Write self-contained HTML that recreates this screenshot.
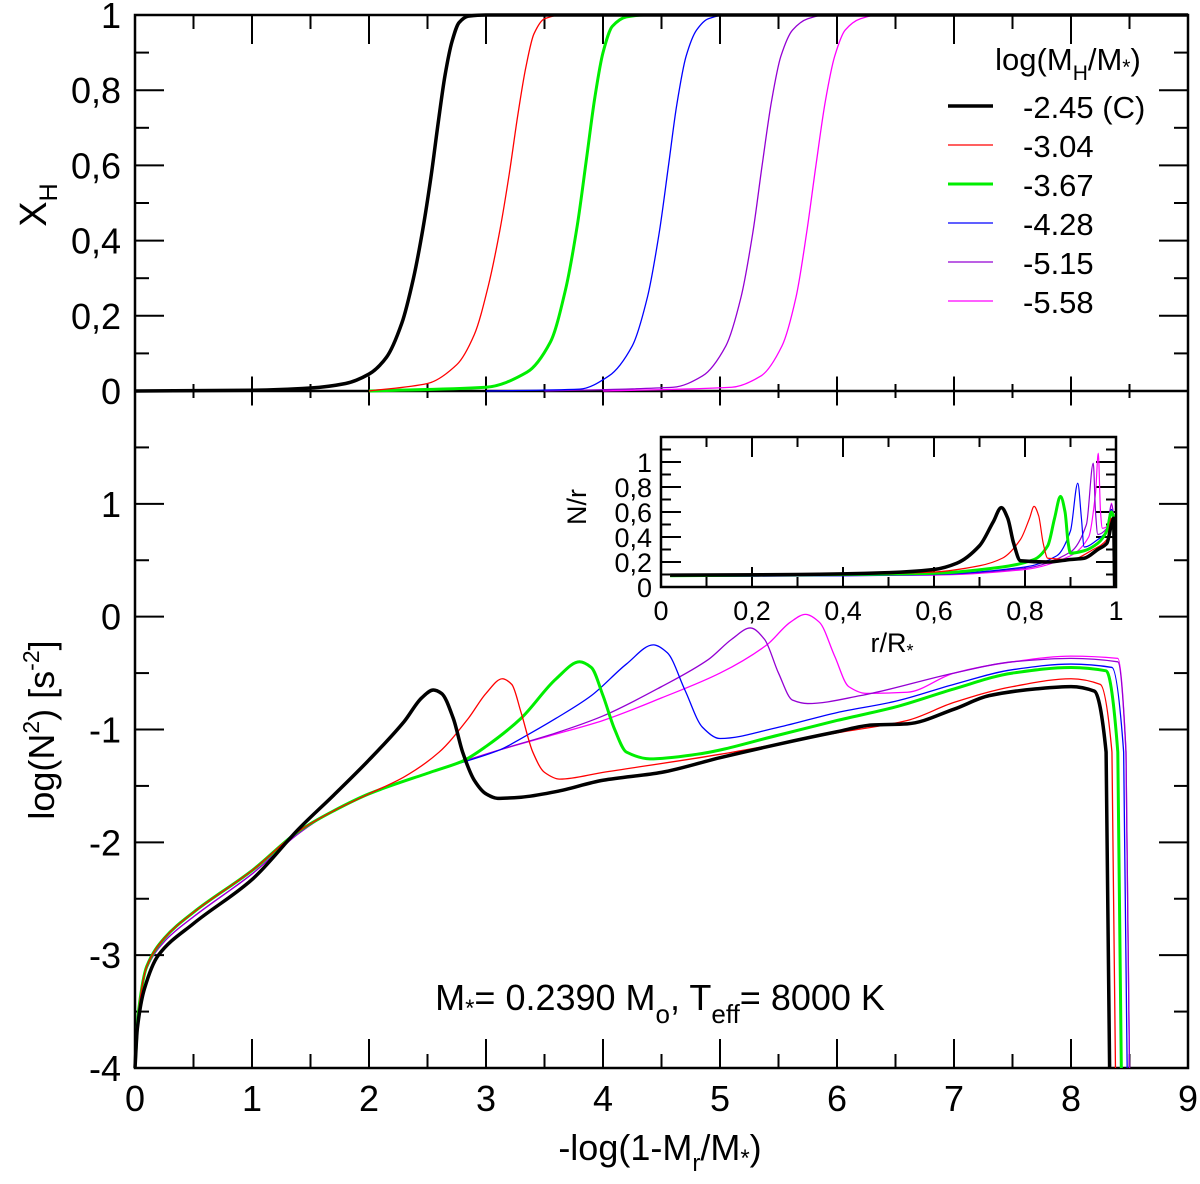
<!DOCTYPE html>
<html><head><meta charset="utf-8"><style>
html,body{margin:0;padding:0;background:#fff;}
svg{display:block;font-family:"Liberation Sans",Arial,sans-serif;}
</style></head><body>
<svg id="chart" width="1200" height="1184" viewBox="0 0 1200 1184" xmlns="http://www.w3.org/2000/svg">
<g id="axes"></g>
<g id="series"></g>
<g id="inset"></g>
<text transform="translate(46,205) rotate(-90)" text-anchor="middle" font-size="38">X<tspan font-size="25" dy="11">H</tspan></text>
<text transform="translate(54,730) rotate(-90)" text-anchor="middle" font-size="36">log(N<tspan font-size="23" dy="-15">2</tspan><tspan dy="15">)  [s</tspan><tspan font-size="23" dy="-15">-2</tspan><tspan dy="15">]</tspan></text>
<text x="660" y="1160" text-anchor="middle" font-size="36">-log(1-M<tspan font-size="24" dy="11">r</tspan><tspan dy="-11">/M</tspan><tspan font-size="24" dy="6">*</tspan><tspan dy="-6">)</tspan></text>
<text x="660" y="1010" text-anchor="middle" font-size="36">M<tspan font-size="24" dy="6">*</tspan><tspan dy="-6">= 0.2390 M</tspan><tspan font-size="26" dy="13">o</tspan><tspan dy="-13">, T</tspan><tspan font-size="26" dy="13">eff</tspan><tspan dy="-13">= 8000 K</tspan></text>
<g id="legend">
<text x="1068" y="70" text-anchor="middle" font-size="31">log(M<tspan font-size="21" dy="10">H</tspan><tspan dy="-10">/M</tspan><tspan font-size="21" dy="4">*</tspan><tspan dy="-4">)</tspan></text>
</g>
</svg>
<script>
// ---- data ----
const seriesNames = ["-2.45 (C)","-3.04","-3.67","-4.28","-5.15","-5.58"];
const seriesColors = ["#000000","#ff0000","#00ee00","#0000ff","#9400d3","#ff00ff"];
const seriesWidths = [3.5,1.3,3,1.3,1.3,1.3];
const xhBlack = [[0,0],[1.0,0.002],[1.5,0.008],[1.8,0.02],[2.0,0.045],[2.15,0.09],[2.28,0.18],[2.38,0.3],[2.46,0.43],[2.53,0.57],[2.59,0.71],[2.65,0.84],[2.71,0.93],[2.77,0.98],[2.85,0.997],[3.0,1],[9,1]];
const xhRed = [[2.0,0],[2.5,0.02],[2.75,0.07],[2.9,0.15],[3.02,0.28],[3.12,0.43],[3.2,0.58],[3.27,0.73],[3.34,0.86],[3.41,0.95],[3.5,0.99],[3.65,1],[9,1]];
const xhGreen = [[2.0,0],[3.0,0.01],[3.35,0.05],[3.55,0.13],[3.68,0.27],[3.78,0.44],[3.86,0.62],[3.93,0.78],[4.0,0.9],[4.08,0.97],[4.2,0.995],[4.35,1],[9,1]];
const xhBlue = [[3.0,0],[3.8,0.005],[4.05,0.04],[4.25,0.12],[4.38,0.25],[4.48,0.42],[4.56,0.6],[4.63,0.76],[4.71,0.89],[4.8,0.96],[4.9,0.99],[5.05,1],[9,1]];
const xhPurple = [[3.5,0],[4.6,0.01],[4.85,0.04],[5.05,0.12],[5.18,0.25],[5.28,0.42],[5.36,0.6],[5.44,0.77],[5.52,0.89],[5.62,0.96],[5.75,0.99],[5.9,1],[9,1]];
const xhMagenta = [[4.0,0],[5.1,0.01],[5.35,0.04],[5.53,0.12],[5.65,0.25],[5.74,0.42],[5.82,0.6],[5.9,0.77],[5.98,0.89],[6.07,0.96],[6.2,0.99],[6.35,1],[9,1]];
const n2Black = [[0,-4],[0.02,-3.65],[0.08,-3.3],[0.2,-3.0],[0.5,-2.72],[1.0,-2.33],[1.4,-1.88],[1.7,-1.58],[2.0,-1.27],[2.3,-0.93],[2.45,-0.72],[2.55,-0.65],[2.62,-0.68],[2.72,-0.9],[2.8,-1.2],[2.9,-1.45],[3.0,-1.57],[3.1,-1.61],[3.3,-1.6],[3.6,-1.55],[4.0,-1.45],[4.5,-1.38],[5.0,-1.25],[5.5,-1.13],[6.0,-1.02],[6.3,-0.96],[6.6,-0.95],[7.0,-0.82],[7.3,-0.7],[7.7,-0.64],[8.0,-0.62],[8.2,-0.66],[8.3,-1.2],[8.33,-4]];
const n2Red = [[0,-4],[0.03,-3.5],[0.1,-3.1],[0.25,-2.85],[0.5,-2.62],[1.0,-2.25],[1.4,-1.9],[1.7,-1.72],[2.0,-1.57],[2.3,-1.42],[2.6,-1.2],[2.85,-0.9],[3.0,-0.68],[3.14,-0.55],[3.22,-0.6],[3.3,-0.85],[3.4,-1.2],[3.5,-1.38],[3.63,-1.44],[4.0,-1.38],[5.0,-1.22],[6.0,-1.03],[6.6,-0.92],[7.0,-0.76],[7.5,-0.62],[8.0,-0.55],[8.25,-0.6],[8.35,-1.2],[8.38,-4]];
const n2Green = [[0,-4],[0.03,-3.5],[0.1,-3.1],[0.25,-2.85],[0.5,-2.62],[1.0,-2.25],[1.4,-1.9],[1.7,-1.72],[2.0,-1.57],[2.55,-1.37],[2.8,-1.28],[3.0,-1.15],[3.3,-0.9],[3.6,-0.55],[3.8,-0.4],[3.9,-0.45],[4.0,-0.7],[4.1,-1.0],[4.2,-1.2],[4.4,-1.26],[4.8,-1.22],[5.5,-1.05],[6.0,-0.92],[6.5,-0.8],[7.0,-0.64],[7.5,-0.5],[8.0,-0.45],[8.3,-0.48],[8.4,-1.2],[8.43,-4]];
const n2Blue = [[0,-4],[0.03,-3.5],[0.1,-3.1],[0.25,-2.85],[0.5,-2.62],[1.0,-2.25],[1.4,-1.9],[1.7,-1.72],[2.0,-1.57],[2.55,-1.37],[3.12,-1.18],[3.3,-1.08],[3.6,-0.9],[3.9,-0.7],[4.2,-0.42],[4.43,-0.25],[4.55,-0.32],[4.7,-0.65],[4.85,-0.98],[5.0,-1.08],[5.5,-0.98],[6.0,-0.85],[6.5,-0.75],[7.0,-0.6],[7.5,-0.47],[8.0,-0.42],[8.35,-0.45],[8.45,-1.2],[8.48,-4]];
const n2Purple = [[0,-4],[0.03,-3.5],[0.1,-3.12],[0.25,-2.88],[0.5,-2.66],[1.0,-2.28],[1.4,-1.92],[1.7,-1.72],[2.0,-1.57],[2.55,-1.37],[3.12,-1.18],[3.6,-1.03],[4.0,-0.88],[4.5,-0.62],[4.9,-0.38],[5.1,-0.2],[5.26,-0.1],[5.38,-0.2],[5.5,-0.5],[5.62,-0.74],[5.75,-0.77],[6.2,-0.7],[7.0,-0.5],[7.5,-0.4],[8.0,-0.37],[8.4,-0.4],[8.47,-1.2],[8.5,-4]];
const n2Magenta = [[0,-4],[0.03,-3.5],[0.1,-3.12],[0.25,-2.88],[0.5,-2.66],[1.0,-2.28],[1.4,-1.92],[1.7,-1.72],[2.0,-1.57],[2.55,-1.37],[3.12,-1.18],[3.6,-1.04],[4.0,-0.92],[4.5,-0.72],[5.0,-0.5],[5.4,-0.25],[5.6,-0.05],[5.73,0.02],[5.85,-0.05],[5.98,-0.35],[6.1,-0.62],[6.25,-0.68],[6.6,-0.67],[7.0,-0.5],[7.5,-0.4],[8.0,-0.35],[8.4,-0.37],[8.47,-1.2],[8.5,-4]];
const inBlack = [[0.02,0.095],[0.3,0.1],[0.5,0.115],[0.6,0.14],[0.65,0.19],[0.7,0.33],[0.73,0.52],[0.748,0.635],[0.762,0.55],[0.775,0.35],[0.79,0.21],[0.85,0.2],[0.9,0.22],[0.93,0.23],[0.96,0.3],[0.98,0.35],[0.99,0.5],[0.995,0.55],[0.997,0]];
const inRed = [[0.02,0.09],[0.4,0.1],[0.6,0.12],[0.7,0.17],[0.75,0.23],[0.79,0.38],[0.81,0.55],[0.82,0.645],[0.83,0.57],[0.84,0.35],[0.85,0.23],[0.9,0.22],[0.95,0.3],[0.98,0.38],[0.99,0.55],[0.995,0.55],[0.997,0]];
const inGreen = [[0.02,0.09],[0.4,0.1],[0.6,0.11],[0.75,0.16],[0.82,0.22],[0.85,0.33],[0.865,0.55],[0.878,0.725],[0.888,0.6],[0.895,0.35],[0.9,0.27],[0.93,0.29],[0.96,0.35],[0.98,0.45],[0.99,0.6],[0.995,0.55],[0.997,0]];
const inBlue = [[0.02,0.085],[0.4,0.09],[0.6,0.1],[0.8,0.16],[0.87,0.25],[0.9,0.45],[0.916,0.83],[0.924,0.55],[0.93,0.32],[0.96,0.38],[0.98,0.45],[0.99,0.62],[0.995,0.55],[0.997,0]];
const inPurple = [[0.02,0.085],[0.6,0.1],[0.8,0.15],[0.9,0.28],[0.935,0.5],[0.95,0.99],[0.955,0.6],[0.96,0.42],[0.98,0.47],[0.99,0.66],[0.995,0.55],[0.997,0]];
const inMagenta = [[0.02,0.085],[0.6,0.095],[0.8,0.14],[0.9,0.25],[0.94,0.4],[0.955,0.75],[0.961,1.07],[0.966,0.6],[0.97,0.47],[0.985,0.5],[0.99,0.67],[0.995,0.55],[0.997,0]];
const xTickLabels = ["0","1","2","3","4","5","6","7","8","9"];
const topYTickLabels = ["0","0,2","0,4","0,6","0,8","1"];
const botYTickLabels = ["-4","-3","-2","-1","0","1"];
const inXTickLabels = ["0","0,2","0,4","0,6","0,8","1"];
const inYTickLabels = ["0","0,2","0,4","0,6","0,8","1"];

// ---- scales ----
const L=135,R=1188,T=15,M=391,B=1068;
const sx=v=>L+(R-L)*v/9;
const syTop=v=>M-(M-T)*v;
const syBot=v=>B-(B-M)*(v+4)/6;
const IL=661,IR=1116,IB=587,IT=437;
const isx=v=>IL+(IR-IL)*v;
const isy=v=>IB-(IB-IT)*v/1.2;

const NS="http://www.w3.org/2000/svg";
function mk(tag,parent,attrs){const e=document.createElementNS(NS,tag);for(const k in attrs)e.setAttribute(k,attrs[k]);parent.appendChild(e);return e;}
const axes=document.getElementById('axes'),series=document.getElementById('series'),inset=document.getElementById('inset'),legend=document.getElementById('legend');

function pathFrom(pts,fx,fy){
  const n=pts.length;const xs=pts.map(p=>fx(p[0])),ys=pts.map(p=>fy(p[1]));
  if(n<3){return 'M'+xs.map((x,i)=>x.toFixed(2)+','+ys[i].toFixed(2)).join('L');}
  const d=[],m=new Array(n);
  for(let i=0;i<n-1;i++){const dx=xs[i+1]-xs[i];d.push(dx===0?0:(ys[i+1]-ys[i])/dx);}
  m[0]=d[0];m[n-1]=d[n-2];
  for(let i=1;i<n-1;i++){m[i]=(d[i-1]*d[i]<=0)?0:2/(1/d[i-1]+1/d[i]);}
  let s='M'+xs[0].toFixed(2)+','+ys[0].toFixed(2);
  for(let i=0;i<n-1;i++){const h=(xs[i+1]-xs[i])/3;
    if(Math.abs(d[i])>40){s+='L'+xs[i+1].toFixed(2)+','+ys[i+1].toFixed(2);continue;}
    const m0=Math.abs(m[i])>40?d[i]:m[i],m1=Math.abs(m[i+1])>40?d[i]:m[i+1];
    s+='C'+(xs[i]+h).toFixed(2)+','+(ys[i]+m0*h).toFixed(2)+' '+(xs[i+1]-h).toFixed(2)+','+(ys[i+1]-m1*h).toFixed(2)+' '+xs[i+1].toFixed(2)+','+ys[i+1].toFixed(2);}
  return s;
}

const frame=mk('rect',axes,{x:L,y:T,width:R-L,height:B-T,fill:'none',stroke:'#000','stroke-width':2.5});


const mid=mk('line',axes,{x1:L,y1:M,x2:R,y2:M,stroke:'#000','stroke-width':2.5});


function tick(parent,x1,y1,x2,y2,w){const t=mk('line',parent,{x1,y1,x2,y2,stroke:'#000','stroke-width':w||2});
  
  }
function label(parent,x,y,txt,size,anchor,name){const t=mk('text',parent,{x,y,'font-size':size,'text-anchor':anchor});t.textContent=txt;
  
  }
for(let i=0;i<=18;i++){const v=i/2,x=sx(v),maj=i%2===0,len=maj?29:14;
  tick(axes,x,B,x,B-len);tick(axes,x,T,x,T+len);tick(axes,x,M-len/2,x,M+len/2);}
xTickLabels.forEach((s,i)=>label(axes,sx(i),1111,s,36,'middle','x-tick-label'));
for(let i=0;i<=10;i++){const v=i/10,y=syTop(v),maj=i%2===0,len=maj?29:14;
  if(i>0&&i<10){tick(axes,L,y,L+len,y);tick(axes,R,y,R-len,y);}}
topYTickLabels.forEach((s,i)=>label(axes,121,syTop(i*0.2)+13,s,36,'end','top-y-tick-label'));
for(let i=1;i<12;i++){const v=-4+i/2,y=syBot(v),maj=i%2===0,len=maj?29:14;
  tick(axes,L,y,L+len,y);tick(axes,R,y,R-len,y);}
botYTickLabels.forEach((s,i)=>label(axes,121,syBot(i-4)+13,s,36,'end','bottom-y-tick-label'));

const xhData=[xhBlack,xhRed,xhGreen,xhBlue,xhPurple,xhMagenta];
const n2Data=[n2Black,n2Red,n2Green,n2Blue,n2Purple,n2Magenta];
const inData=[inBlack,inRed,inGreen,inBlue,inPurple,inMagenta];
const order=[5,4,3,2,1,0];
order.forEach(k=>{
  const p=mk('path',series,{d:pathFrom(xhData[k],sx,syTop),fill:'none',stroke:seriesColors[k],'stroke-width':seriesWidths[k],'stroke-linejoin':'round'});
  
  
  const q=mk('path',series,{d:pathFrom(n2Data[k],sx,syBot),fill:'none',stroke:seriesColors[k],'stroke-width':seriesWidths[k],'stroke-linejoin':'round'});
  
  
});

const bg=mk('rect',inset,{x:IL,y:IT,width:IR-IL,height:IB-IT,fill:'#fff',stroke:'#000','stroke-width':2.5});


for(let i=0;i<=10;i++){const x=isx(i/10),len=i%2===0?20:10;
  tick(inset,x,IB,x,IB-len,2);tick(inset,x,IT,x,IT+len,2);}
for(let i=1;i<12;i++){const y=isy(i/10),len=i%2===0?20:10;
  tick(inset,IL,y,IL+len,y,2);tick(inset,IR,y,IR-len,y,2);}
inXTickLabels.forEach((s,i)=>label(inset,isx(i*0.2),620,s,27,'middle','inset-x-tick-label'));
inYTickLabels.forEach((s,i)=>label(inset,652,isy(i*0.2)+10,s,27,'end','inset-y-tick-label'));
order.forEach(k=>{
  const p=mk('path',inset,{d:pathFrom(inData[k],isx,isy),fill:'none',stroke:seriesColors[k],'stroke-width':k===0?3.5:(k===2?3:1.2),'stroke-linejoin':'round'});
  
  
});
const nr=mk('text',inset,{transform:'translate(586,507) rotate(-90)','text-anchor':'middle','font-size':27});nr.textContent='N/r';


const rr=mk('text',inset,{x:892,y:652,'text-anchor':'middle','font-size':27});


rr.innerHTML='r/R<tspan font-size="18" dy="5">*</tspan>';

seriesNames.forEach((s,i)=>{const y=106+i*39;
  const l=mk('line',legend,{x1:948,y1:y,x2:993,y2:y,stroke:seriesColors[i],'stroke-width':seriesWidths[i]});
  
  
  label(legend,1023,y+12,s,31,'start','legend-entry');});
</script>
</body></html>
